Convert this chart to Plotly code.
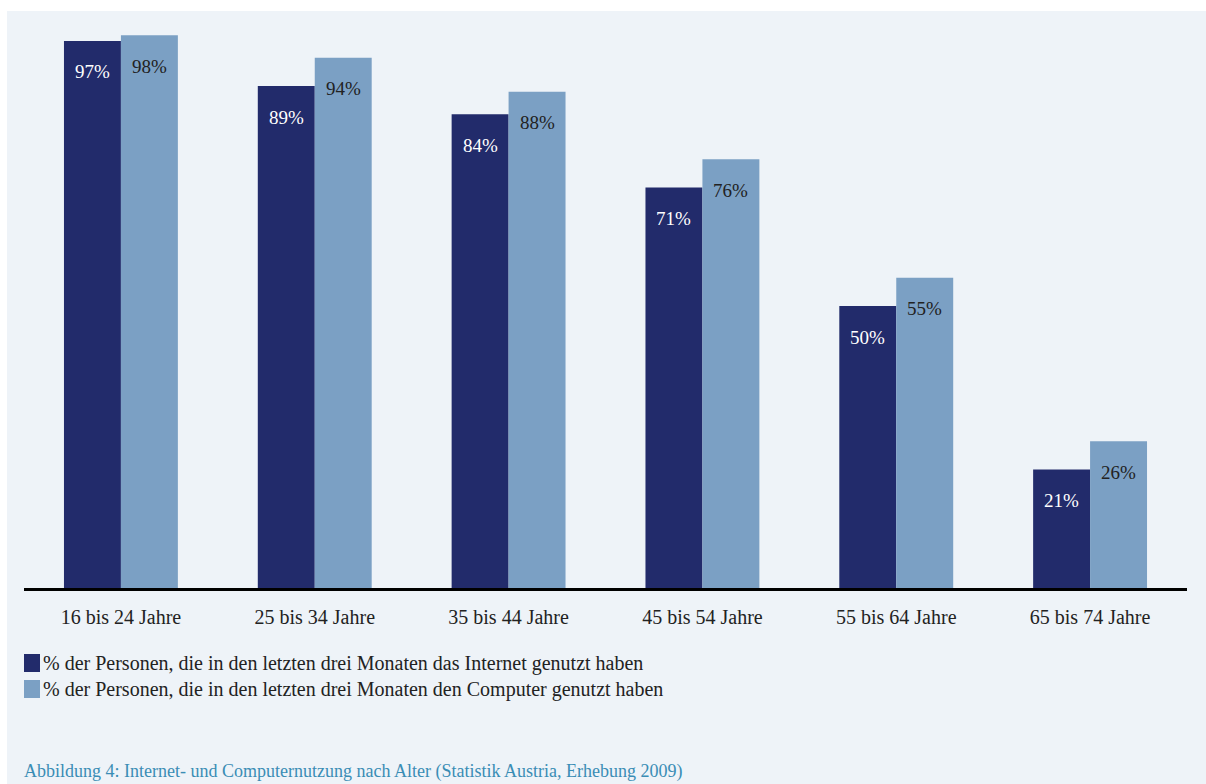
import plotly.graph_objects as go

categories = ["16 bis 24 Jahre", "25 bis 34 Jahre", "35 bis 44 Jahre",
              "45 bis 54 Jahre", "55 bis 64 Jahre", "65 bis 74 Jahre"]
internet = [97, 89, 84, 71, 50, 21]
computer = [98, 94, 88, 76, 55, 26]
series_names = ["% der Personen, die in den letzten drei Monaten das Internet genutzt haben",
                "% der Personen, die in den letzten drei Monaten den Computer genutzt haben"]
caption = "Abbildung 4: Internet- und Computernutzung nach Alter (Statistik Austria, Erhebung 2009)"

DARK = "#222b6b"
LIGHT = "#7ba0c4"
BG = "#eef3f8"
SERIF = "Liberation Serif, Times New Roman, serif"

W, H = 1206, 784
ML, MR, MT, MB = 24, W - 1187, 11, H - 588
PW, PH = W - ML - MR, H - MT - MB

def px_x(p):  # page pixel -> paper
    return (p - ML) / PW

def px_y(p):
    return (H - MB - p) / PH

fig = go.Figure()
for name, vals, col in [(series_names[0], internet, DARK), (series_names[1], computer, LIGHT)]:
    fig.add_trace(go.Bar(x=categories, y=vals, name=name, marker_color=col,
                         marker_line_width=0, showlegend=False, hoverinfo="skip"))

# value labels inside bars near the top
for vals, shift, tcol in [(internet, -28.5, "white"), (computer, 28.5, "#222222")]:
    for c, v in zip(categories, vals):
        fig.add_annotation(x=c, y=v, xref="x", yref="y", text=f"{v}%", showarrow=False,
                           xshift=shift, yshift=-31, yanchor="middle",
                           font=dict(family=SERIF, size=19, color=tcol))

shapes = [dict(type="rect", xref="paper", yref="paper", x0=px_x(7), x1=px_x(W + 10),
               y0=px_y(H + 10), y1=px_y(11), fillcolor=BG, line_width=0, layer="below")]
# manual legend
for i, (name, col) in enumerate([(series_names[0], DARK), (series_names[1], LIGHT)]):
    cy = 663 + i * 26
    shapes.append(dict(type="rect", xref="paper", yref="paper", x0=px_x(24), x1=px_x(40),
                       y0=px_y(cy + 9), y1=px_y(cy - 9), fillcolor=col, line_width=0))
    fig.add_annotation(xref="paper", yref="paper", x=px_x(41), y=px_y(cy), text=name,
                       showarrow=False, xanchor="left", yanchor="middle",
                       font=dict(family=SERIF, size=20, color="#222222"))

fig.add_annotation(xref="paper", yref="paper", x=px_x(22), y=px_y(771), text=caption,
                   showarrow=False, xanchor="left", yanchor="middle",
                   font=dict(family=SERIF, size=18, color="#3a8db5"))

fig.update_layout(
    width=W, height=H, margin=dict(l=ML, r=MR, t=MT, b=MB, autoexpand=False),
    paper_bgcolor="white", plot_bgcolor=BG,
    barmode="group", bargap=80 / 194, bargroupgap=0,
    shapes=shapes,
    xaxis=dict(showline=True, linecolor="black", linewidth=3, ticks="outside",
               ticklen=9, tickcolor="rgba(0,0,0,0)",
               tickfont=dict(family=SERIF, size=20, color="#222222"), showgrid=False),
    yaxis=dict(range=[0, PH / 5.64], visible=False, showgrid=False, zeroline=False),
)

fig.write_html("out.html", config={"displayModeBar": False},
               post_script="document.body.style.margin='0';document.body.style.overflow='hidden';")
